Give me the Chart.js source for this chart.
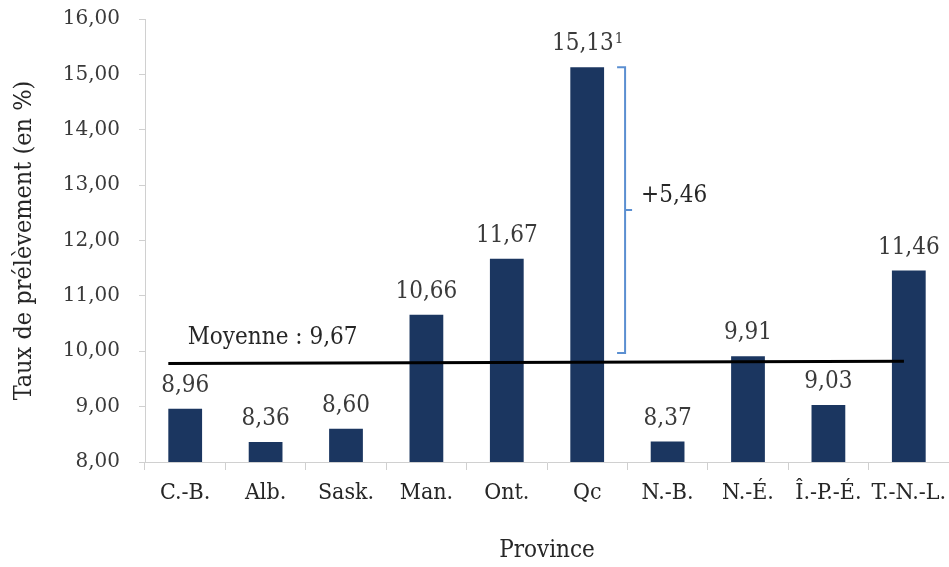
<!DOCTYPE html>
<html>
<head>
<meta charset="utf-8">
<script src="https://cdn.jsdelivr.net/npm/chart.js@4.4.1/dist/chart.umd.min.js"></script>
<style>
  html,body{margin:0;padding:0;background:#fff;}
  #wrap{width:949px;height:567px;position:relative;}
</style>
</head>
<body>
<div id="wrap"><canvas id="chart" width="949" height="567"></canvas></div>
<script>
/* ============ DONNÉES ============ */
const provinces = ['C.-B.','Alb.','Sask.','Man.','Ont.','Qc','N.-B.','N.-É.','Î.-P.-É.','T.-N.-L.'];
const taux = [8.96, 8.36, 8.60, 10.66, 11.67, 15.13, 8.37, 9.91, 9.03, 11.46];
const yTicks = [8,9,10,11,12,13,14,15,16];
const meanLabel = 'Moyenne : 9,67';
const meanLine = [9.78, 9.82];        // début / fin de la ligne tracée
const bracketRange = [9.97, 15.13];   // accolade Qc
const bracketLabel = '+5,46';
const qcIndex = 5;

const fmt = v => v.toFixed(2).replace('.', ',');
const SERIF = '"DejaVu Serif", serif';
const COND = '"DejaVu Serif Condensed", "Liberation Serif", serif';
const TXT = '#3a3a3a';

/* ============ ANNOTATIONS ============ */
const annotations = {
  id: 'annotations',
  afterDatasetsDraw(chart){
    const {ctx, scales:{x, y}} = chart;
    const bars = chart.getDatasetMeta(0).data;
    const big = '24px ' + COND, sup = '15px ' + COND;
    ctx.save();

    // étiquettes de valeurs
    ctx.fillStyle = TXT;
    ctx.font = big;
    ctx.textAlign = 'center';
    ctx.textBaseline = 'middle';
    bars.forEach((b, i) => {
      const txt = fmt(taux[i]);
      if (i === qcIndex){
        const w = ctx.measureText(txt).width;
        ctx.font = sup;
        const sw = ctx.measureText('1').width;
        const x0 = b.x - (w + sw) / 2;
        ctx.font = big;
        ctx.textAlign = 'left';
        ctx.fillText(txt, x0, b.y - 23);
        ctx.font = sup;
        ctx.fillText('1', x0 + w + 1, b.y - 28);
        ctx.font = big;
        ctx.textAlign = 'center';
      } else {
        ctx.fillText(txt, b.x, b.y - 23);
      }
    });

    // ligne de moyenne
    const first = bars[0], last = bars[bars.length - 1];
    const xs = first.x - first.width / 2, xe = last.x - last.width / 2 + 12;
    ctx.strokeStyle = '#000';
    ctx.lineWidth = 3;
    ctx.beginPath();
    ctx.moveTo(xs, y.getPixelForValue(meanLine[0]));
    ctx.lineTo(xe, y.getPixelForValue(meanLine[1]));
    ctx.stroke();
    ctx.fillStyle = '#262626';
    ctx.fillText(meanLabel, x.getPixelForValue(1) + 7, y.getPixelForValue(meanLine[0]) - 26);

    // accolade
    const qc = bars[qcIndex];
    const bx = qc.x + qc.width / 2 + 21;
    const yt = y.getPixelForValue(bracketRange[1]);
    const yb = y.getPixelForValue(bracketRange[0]);
    const ym = (yt + yb) / 2;
    ctx.strokeStyle = '#5b8fd1';
    ctx.lineWidth = 2;
    ctx.beginPath();
    ctx.moveTo(bx - 8, yt); ctx.lineTo(bx, yt); ctx.lineTo(bx, yb); ctx.lineTo(bx - 8, yb);
    ctx.moveTo(bx, ym); ctx.lineTo(bx + 7, ym);
    ctx.stroke();
    ctx.fillStyle = '#262626';
    ctx.textAlign = 'left';
    ctx.fillText(bracketLabel, bx + 16, ym - 14);

    ctx.restore();
  }
};

/* ============ GRAPHIQUE ============ */
new Chart(document.getElementById('chart'), {
  type: 'bar',
  data: {
    labels: provinces,
    datasets: [{
      data: taux,
      backgroundColor: '#1b3660',
      borderWidth: 0,
      categoryPercentage: 1,
      barPercentage: 0.42
    }]
  },
  options: {
    responsive: false,
    animation: false,
    layout: { padding: { top: 19, right: 0, left: 0, bottom: 0 } },
    plugins: { legend: { display: false }, tooltip: { enabled: false } },
    scales: {
      y: {
        min: 8, max: 16,
        afterBuildTicks: s => { s.ticks = yTicks.map(v => ({ value: v })); },
        afterFit: s => { s.width = 145; s.paddingTop = 0; s.paddingBottom = 0; },
        ticks: { callback: v => fmt(v), color: TXT, font: { family: SERIF, size: 20 }, padding: 19 },
        grid: { drawOnChartArea: false, drawTicks: true, tickLength: 6, color: '#d0d0d0' },
        border: { color: '#d0d0d0', width: 1 },
        title: { display: true, text: 'Taux de prélèvement (en %)', color: '#262626',
                 font: { family: COND, size: 25 }, padding: { top: 9 } }
      },
      x: {
        afterFit: s => { s.height = 105; s.paddingLeft = 0; s.paddingRight = 0; },
        ticks: { color: '#262626', font: { family: COND, size: 23 }, padding: 9, maxRotation: 0, autoSkip: false },
        grid: { drawOnChartArea: false, drawTicks: true, tickLength: 8, color: '#d0d0d0', offset: true },
        border: { color: '#d0d0d0', width: 1 },
        title: { display: true, text: 'Province', color: '#262626',
                 font: { family: COND, size: 24 }, padding: { bottom: 2 } }
      }
    }
  },
  plugins: [annotations]
});
</script>
</body>
</html>
